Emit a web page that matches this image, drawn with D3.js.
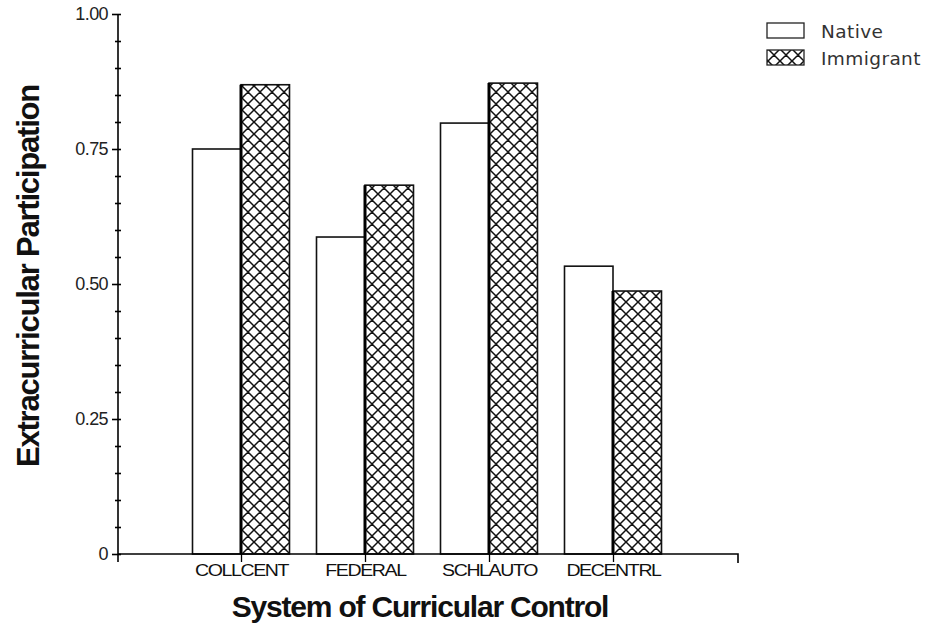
<!DOCTYPE html>
<html>
<head>
    <script src="https://d3js.org/d3.v7.min.js"></script>
    <style>
        body {margin: 0; background: #fff; font-family: Arial, "Liberation Sans", sans-serif;}
        .tick text {font-family: Arial, "Liberation Sans", sans-serif;}
    </style>
</head>
<body>
    <svg width="929" height="624"></svg>
    <script>
        // Data
        let categories = ["COLLCENT", "FEDERAL", "SCHLAUTO", "DECENTRL"];
        let series = ["Native", "Immigrant"];
        let nativeValues = [0.75, 0.587, 0.798, 0.533];
        let immigrantValues = [0.869, 0.683, 0.872, 0.487];
        let yTickValues = [0, 0.25, 0.5, 0.75, 1];
        let yTickLabels = ["0", "0.25", "0.50", "0.75", "1.00"];

        let svg = d3.select("svg");

        // hatch pattern for immigrant bars
        let defs = svg.append("defs");
        let pat = defs.append("pattern")
            .attr("id", "hatch")
            .attr("patternUnits", "userSpaceOnUse")
            .attr("width", 12).attr("height", 12)
            .attr("x", 1).attr("y", 2);
        pat.append("rect").attr("width", 12).attr("height", 12).attr("fill", "#fff");
        pat.append("path")
            .attr("d", "M0,0L12,12M12,0L0,12M-6,6L0,12M6,-6L18,6M-6,6L6,-6M6,18L18,6")
            .attr("stroke", "#111").attr("stroke-width", 1.5);

        let left = 118, bottom = 554, plotTop = 14;
        let y = d3.scaleLinear().domain([0, 1]).range([bottom, plotTop]);
        let x = d3.scalePoint().domain(categories).range([241, 613]);
        let sub = d3.scaleBand().domain(series).range([-48.5, 48.5]);

        // y axis
        let yAxis = d3.axisLeft(y)
            .tickValues(d3.range(0, 1.0001, 0.05))
            .tickSize(6)
            .tickFormat(d => {
                let i = yTickValues.findIndex(v => Math.abs(v - d) < 1e-6);
                return i >= 0 ? yTickLabels[i] : "";
            });
        let yg = svg.append("g").attr("transform", `translate(${left},0)`).call(yAxis);
        yg.select(".domain").attr("d", `M0,${plotTop}V${bottom + 8}`).attr("stroke-width", 1.6);
        yg.selectAll(".tick line").attr("stroke-width", 1.6)
            .attr("x1", 3).attr("x2", d => yTickValues.some(v => Math.abs(v - d) < 1e-6) ? -6 : -3);
        yg.selectAll(".tick text").attr("font-size", 18).attr("fill", "#222").attr("x", -10)
            .attr("letter-spacing", -0.6);

        // bars
        let groups = svg.selectAll(".grp")
            .data(categories)
            .enter().append("g")
            .attr("transform", d => `translate(${x(d)},0)`);

        groups.append("rect")
            .attr("x", sub("Native"))
            .attr("width", sub.bandwidth())
            .attr("y", (d, i) => y(nativeValues[i]))
            .attr("height", (d, i) => bottom - y(nativeValues[i]))
            .attr("fill", "#fff").attr("stroke", "#111").attr("stroke-width", 1.6);

        groups.append("rect")
            .attr("x", sub("Immigrant"))
            .attr("width", sub.bandwidth())
            .attr("y", (d, i) => y(immigrantValues[i]))
            .attr("height", (d, i) => bottom - y(immigrantValues[i]))
            .attr("fill", "url(#hatch)").attr("stroke", "#111").attr("stroke-width", 1.6);

        // thicker left edge of immigrant bars
        groups.append("line")
            .attr("x1", sub("Immigrant")).attr("x2", sub("Immigrant"))
            .attr("y1", (d, i) => y(immigrantValues[i]))
            .attr("y2", bottom)
            .attr("stroke", "#000").attr("stroke-width", 3);

        // x axis
        let xAxis = d3.axisBottom(x).tickSize(8).tickSizeOuter(0);
        let xg = svg.append("g").attr("transform", `translate(0,${bottom})`).call(xAxis);
        xg.select(".domain").attr("d", `M${left},0H738V9`).attr("stroke-width", 1.6).attr("fill", "none");
        xg.selectAll(".tick line").attr("stroke-width", 1.3);
        xg.selectAll(".tick text")
            .attr("font-size", 17).attr("fill", "#111").attr("y", 10)
            .attr("letter-spacing", -1.2)
            .attr("transform", "scale(1.15,1)");

        // axis titles
        svg.append("text")
            .attr("x", 420).attr("y", 617)
            .attr("text-anchor", "middle")
            .attr("font-size", 30).attr("font-weight", "bold")
            .attr("letter-spacing", -1.2)
            .attr("fill", "#111")
            .text("System of Curricular Control");

        svg.append("text")
            .attr("transform", "translate(39,276) rotate(-90)")
            .attr("text-anchor", "middle")
            .attr("font-size", 31).attr("font-weight", "bold")
            .attr("letter-spacing", -1.2)
            .attr("fill", "#111")
            .text("Extracurricular Participation");

        // legend
        let legend = svg.append("g").attr("transform", "translate(767,23)");
        series.forEach((s, i) => {
            legend.append("rect")
                .attr("x", 0).attr("y", i * 27)
                .attr("width", 37).attr("height", 15)
                .attr("fill", i === 0 ? "#fff" : "url(#hatch)")
                .attr("stroke", "#222").attr("stroke-width", 1.3);
            legend.append("text")
                .attr("x", 54).attr("y", i * 27 + 15)
                .attr("font-family", "'DejaVu Sans', Verdana, sans-serif")
                .attr("font-size", 18.5).attr("fill", "#333")
                .attr("letter-spacing", 0.4)
                .text(s);
        });
    </script>
</body>
</html>
